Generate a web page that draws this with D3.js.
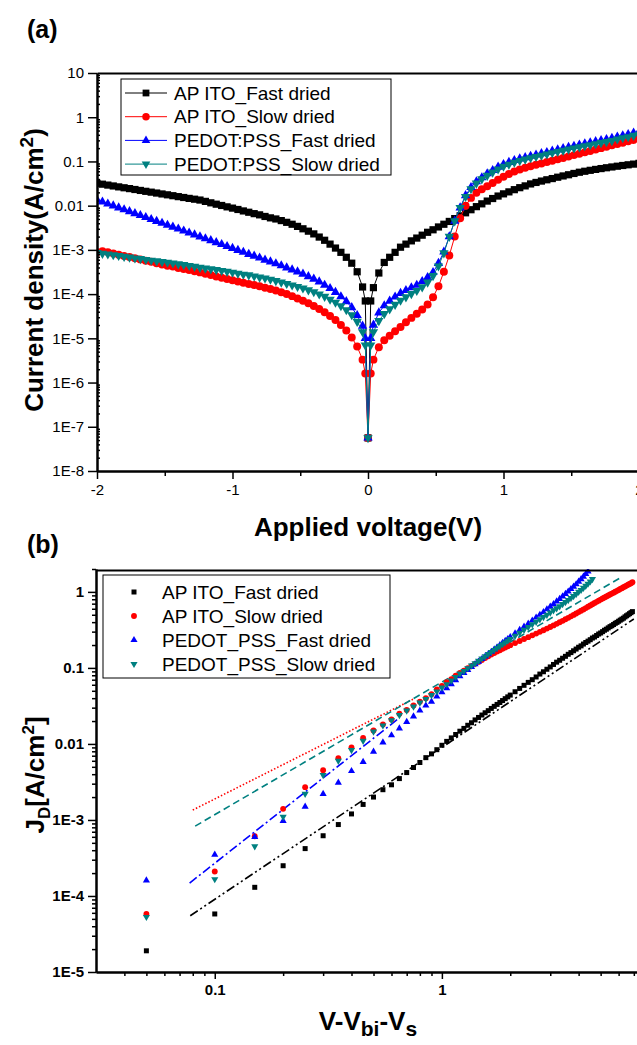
<!DOCTYPE html>
<html lang="en">
<head>
<meta charset="UTF-8">
<title>Current density vs voltage</title>
<script src="https://d3js.org/d3.v7.min.js"></script>
<style>
  body { margin: 0; background: #fff; }
  svg { display: block; }
</style>
</head>
<body>
<svg id="chart" width="637" height="1045"></svg>
<script>
// ---------- panel (a): J-V sweep from -2 V to 2 V ----------
// voltage grid of the sweep (0.04 V steps, plus the two points next to 0 V)
const voltA = [...d3.range(-50, 0).map(i => +(i * 0.04).toFixed(2)), -0.02, 0, 0.02,
               ...d3.range(1, 51).map(i => +(i * 0.04).toFixed(2))];

const apFastA = [
  3.20e-2, 3.06e-2, 2.92e-2, 2.79e-2, 2.66e-2, 2.54e-2, 2.43e-2, 2.32e-2, 2.21e-2, 2.11e-2,
  2.02e-2, 1.93e-2, 1.84e-2, 1.76e-2, 1.68e-2, 1.60e-2, 1.53e-2, 1.46e-2, 1.40e-2, 1.34e-2,
  1.25e-2, 1.16e-2, 1.08e-2, 1.01e-2, 9.4e-3, 8.8e-3, 8.2e-3, 7.6e-3, 7.1e-3, 6.6e-3,
  6.2e-3, 5.7e-3, 5.3e-3, 5.0e-3, 4.6e-3, 4.2e-3, 3.8e-3, 3.4e-3, 3.0e-3, 2.65e-3,
  2.3e-3, 1.95e-3, 1.65e-3, 1.35e-3, 1.1e-3, 8.8e-4, 6.8e-4, 5.0e-4, 3.2e-4, 1.45e-4,
  7e-5, 5.6e-8, 7e-5,
  1.4e-4, 3.0e-4, 5.2e-4, 6.8e-4, 8.8e-4, 1.15e-3, 1.35e-3, 1.6e-3, 1.85e-3, 2.15e-3,
  2.5e-3, 2.85e-3, 3.3e-3, 3.8e-3, 4.4e-3, 5.1e-3, 5.9e-3, 6.9e-3, 8.1e-3, 9.5e-3,
  1.1e-2, 1.27e-2, 1.45e-2, 1.65e-2, 1.85e-2, 2.05e-2, 2.3e-2, 2.55e-2, 2.8e-2, 3.1e-2,
  3.35e-2, 3.6e-2, 3.85e-2, 4.1e-2, 4.4e-2, 4.7e-2, 5.0e-2, 5.35e-2, 5.7e-2, 6.0e-2,
  6.3e-2, 6.6e-2, 6.9e-2, 7.2e-2, 7.5e-2, 7.8e-2, 8.1e-2, 8.4e-2, 8.7e-2, 9.0e-2
];
const apSlowA = [
  8.8e-4, 9.3e-4, 8.9e-4, 8.3e-4, 7.8e-4, 7.3e-4, 6.9e-4, 6.5e-4, 6.1e-4, 5.7e-4,
  5.4e-4, 5.0e-4, 4.7e-4, 4.4e-4, 4.2e-4, 3.9e-4, 3.7e-4, 3.5e-4, 3.3e-4, 3.1e-4,
  2.9e-4, 2.7e-4, 2.5e-4, 2.35e-4, 2.2e-4, 2.05e-4, 1.93e-4, 1.81e-4, 1.7e-4, 1.6e-4,
  1.5e-4, 1.4e-4, 1.3e-4, 1.2e-4, 1.1e-4, 1.0e-4, 9.0e-5, 8.0e-5, 7.1e-5, 6.2e-5,
  5.4e-5, 4.6e-5, 3.9e-5, 3.2e-5, 2.6e-5, 2.0e-5, 1.5e-5, 1.05e-5, 6.5e-6, 3.3e-6,
  1.6e-6, 5.6e-8, 1.6e-6,
  3.3e-6, 6.3e-6, 9.0e-6, 1.15e-5, 1.45e-5, 1.8e-5, 2.3e-5, 2.9e-5, 3.6e-5, 4.5e-5,
  5.8e-5, 8.5e-5, 1.5e-4, 3.2e-4, 7.5e-4, 2.0e-3, 5.2e-3, 1.0e-2, 1.5e-2, 1.95e-2,
  2.35e-2, 2.75e-2, 3.25e-2, 3.85e-2, 4.5e-2, 5.2e-2, 5.9e-2, 6.6e-2, 7.2e-2, 7.8e-2,
  8.4e-2, 9.0e-2, 9.7e-2, 0.104, 0.112, 0.12, 0.129, 0.139, 0.15, 0.161,
  0.173, 0.186, 0.2, 0.215, 0.231, 0.248, 0.266, 0.286, 0.307, 0.33
];
const pedotFastA = [
  1.35e-2, 1.22e-2, 1.10e-2, 9.96e-3, 9.0e-3, 8.15e-3, 7.37e-3, 6.66e-3, 6.02e-3, 5.45e-3,
  4.92e-3, 4.45e-3, 4.03e-3, 3.64e-3, 3.29e-3, 2.98e-3, 2.69e-3, 2.43e-3, 2.2e-3, 1.99e-3,
  1.8e-3, 1.63e-3, 1.47e-3, 1.33e-3, 1.2e-3, 1.09e-3, 9.8e-4, 8.9e-4, 8.0e-4, 7.3e-4,
  6.6e-4, 5.9e-4, 5.4e-4, 4.9e-4, 4.4e-4, 3.95e-4, 3.55e-4, 3.2e-4, 2.85e-4, 2.5e-4,
  2.2e-4, 1.9e-4, 1.6e-4, 1.35e-4, 1.1e-4, 8.8e-5, 6.8e-5, 5.0e-5, 3.3e-5, 1.9e-5,
  1.0e-5, 5.6e-8, 1.0e-5,
  2.0e-5, 3.8e-5, 5.5e-5, 7.0e-5, 8.7e-5, 1.05e-4, 1.22e-4, 1.4e-4, 1.6e-4, 1.95e-4,
  2.4e-4, 3.1e-4, 5.0e-4, 9.0e-4, 2.0e-3, 4.5e-3, 9.0e-3, 1.7e-2, 2.6e-2, 3.5e-2,
  4.3e-2, 5.3e-2, 6.3e-2, 7.5e-2, 8.6e-2, 9.6e-2, 0.106, 0.115, 0.123, 0.132,
  0.141, 0.151, 0.161, 0.172, 0.184, 0.197, 0.21, 0.223, 0.237, 0.251,
  0.266, 0.282, 0.298, 0.316, 0.334, 0.36, 0.385, 0.41, 0.44, 0.47
];
const pedotSlowA = [
  8.6e-4, 8.3e-4, 8.0e-4, 7.7e-4, 7.4e-4, 7.1e-4, 6.8e-4, 6.5e-4, 6.3e-4, 6.0e-4,
  5.8e-4, 5.6e-4, 5.4e-4, 5.2e-4, 5.0e-4, 4.8e-4, 4.6e-4, 4.4e-4, 4.2e-4, 4.0e-4,
  3.85e-4, 3.7e-4, 3.55e-4, 3.4e-4, 3.25e-4, 3.1e-4, 2.95e-4, 2.8e-4, 2.7e-4, 2.55e-4,
  2.4e-4, 2.3e-4, 2.15e-4, 2.0e-4, 1.85e-4, 1.72e-4, 1.6e-4, 1.48e-4, 1.36e-4, 1.24e-4,
  1.12e-4, 1.0e-4, 8.8e-5, 7.6e-5, 6.5e-5, 5.4e-5, 4.4e-5, 3.4e-5, 2.4e-5, 1.4e-5,
  7e-6, 5.6e-8, 7e-6,
  1.4e-5, 2.5e-5, 3.6e-5, 4.6e-5, 5.8e-5, 7.2e-5, 8.6e-5, 1.02e-4, 1.2e-4, 1.45e-4,
  1.85e-4, 2.6e-4, 4.3e-4, 8.5e-4, 2.0e-3, 4.5e-3, 9.0e-3, 1.6e-2, 2.4e-2, 3.2e-2,
  4.0e-2, 4.8e-2, 5.7e-2, 6.7e-2, 7.7e-2, 8.6e-2, 9.5e-2, 0.104, 0.112, 0.12,
  0.128, 0.137, 0.146, 0.156, 0.166, 0.177, 0.188, 0.2, 0.212, 0.224,
  0.237, 0.25, 0.264, 0.278, 0.293, 0.32, 0.34, 0.36, 0.385, 0.41
];

const xTicksA = [-2, -1, 0, 1, 2];
const yTicksA = [1e-8, 1e-7, 1e-6, 1e-5, 1e-4, 1e-3, 1e-2, 1e-1, 1, 10];
const yTickLabelsA = ["1E-8", "1E-7", "1E-6", "1E-5", "1E-4", "1E-3", "0.01", "0.1", "1", "10"];
const namesA = ["AP ITO_Fast dried", "AP ITO_Slow dried", "PEDOT:PSS_Fast dried", "PEDOT:PSS_Slow dried"];

// ---------- panel (b): J_D vs V - Vbi - Vs (log-log) ----------
const biasB = [...d3.range(1, 41).map(i => +(i * 0.05).toFixed(2)),
               ...d3.range(21, 71).map(i => +(i * 0.1).toFixed(1))];

const apFastB = [
  1.9e-5, 5.8e-5, 1.3e-4, 2.5e-4, 4.2e-4, 6.2e-4, 8.7e-4, 1.2e-3, 1.6e-3, 2.0e-3,
  2.5e-3, 2.9e-3, 3.5e-3, 4.2e-3, 4.9e-3, 5.7e-3, 6.6e-3, 7.4e-3, 8.4e-3, 9.6e-3,
  1.08e-2, 1.2e-2, 1.33e-2, 1.47e-2, 1.6e-2, 1.76e-2, 1.9e-2, 2.07e-2, 2.23e-2, 2.4e-2,
  2.57e-2, 2.74e-2, 2.93e-2, 3.12e-2, 3.31e-2, 3.51e-2, 3.72e-2, 3.94e-2, 4.16e-2, 4.39e-2,
  4.86e-2, 5.37e-2, 5.9e-2, 6.45e-2, 7.0e-2, 7.6e-2, 8.3e-2, 8.9e-2, 9.6e-2, 0.103,
  0.111, 0.119, 0.126, 0.134, 0.142, 0.151, 0.159, 0.168, 0.177, 0.187,
  0.195, 0.206, 0.216, 0.225, 0.235, 0.247, 0.255, 0.267, 0.279, 0.288,
  0.3, 0.313, 0.323, 0.336, 0.349, 0.359, 0.372, 0.386, 0.397, 0.411,
  0.425, 0.438, 0.451, 0.469, 0.485, 0.5, 0.517, 0.533, 0.55
];
const apSlowB = [
  5.8e-5, 2.1e-4, 6.1e-4, 1.4e-3, 2.7e-3, 4.5e-3, 6.5e-3, 9.0e-3, 1.2e-2, 1.5e-2,
  1.8e-2, 2.1e-2, 2.5e-2, 2.8e-2, 3.2e-2, 3.6e-2, 4.0e-2, 4.5e-2, 5.2e-2, 5.8e-2,
  6.5e-2, 7.1e-2, 7.9e-2, 8.6e-2, 9.2e-2, 9.9e-2, 0.106, 0.113, 0.12, 0.127,
  0.135, 0.142, 0.15, 0.157, 0.164, 0.171, 0.178, 0.185, 0.192, 0.199,
  0.212, 0.226, 0.24, 0.254, 0.268, 0.283, 0.298, 0.313, 0.329, 0.345,
  0.362, 0.38, 0.398, 0.416, 0.436, 0.456, 0.477, 0.498, 0.52, 0.542,
  0.565, 0.588, 0.612, 0.637, 0.662, 0.688, 0.714, 0.74, 0.766, 0.792,
  0.818, 0.844, 0.87, 0.896, 0.923, 0.95, 0.977, 1.005, 1.033, 1.06,
  1.09, 1.12, 1.15, 1.18, 1.21, 1.24, 1.27, 1.3, 1.34
];
const pedotFastB = [
  1.6e-4, 3.5e-4, 6.0e-4, 9.7e-4, 1.5e-3, 2.2e-3, 3.1e-3, 4.4e-3, 5.8e-3, 7.9e-3,
  1.05e-2, 1.3e-2, 1.6e-2, 1.95e-2, 2.3e-2, 2.75e-2, 3.2e-2, 3.6e-2, 4.2e-2, 4.8e-2,
  5.4e-2, 6.1e-2, 6.9e-2, 7.8e-2, 8.6e-2, 9.4e-2, 0.103, 0.112, 0.121, 0.131,
  0.141, 0.152, 0.163, 0.175, 0.187, 0.2, 0.213, 0.226, 0.24, 0.255,
  0.285, 0.316, 0.349, 0.383, 0.42, 0.46, 0.5, 0.54, 0.59, 0.64,
  0.69, 0.75, 0.81, 0.87, 0.94, 1.01, 1.09, 1.17, 1.26, 1.36,
  1.47, 1.59, 1.72, 1.86
];
const pedotSlowB = [
  5.3e-5, 1.66e-4, 4.5e-4, 1.1e-3, 2.2e-3, 3.9e-3, 6.0e-3, 8.3e-3, 1.1e-2, 1.45e-2,
  1.75e-2, 2.05e-2, 2.4e-2, 2.75e-2, 3.1e-2, 3.5e-2, 3.9e-2, 4.4e-2, 4.9e-2, 5.5e-2,
  6.1e-2, 6.8e-2, 7.6e-2, 8.4e-2, 9.1e-2, 9.9e-2, 0.107, 0.115, 0.124, 0.133,
  0.142, 0.152, 0.162, 0.172, 0.183, 0.194, 0.205, 0.216, 0.228, 0.24,
  0.264, 0.29, 0.317, 0.345, 0.374, 0.404, 0.435, 0.467, 0.5, 0.535,
  0.571, 0.608, 0.647, 0.69, 0.735, 0.78, 0.83, 0.88, 0.935, 1.0,
  1.06, 1.13, 1.2, 1.28, 1.37, 1.47
];

// fitted lines, two end points each: [x0, x1], [J0, J1]
const fitApFastX = [0.078, 7.0],   fitApFastJ = [5.5e-5, 0.44];
const fitApSlowX = [0.08, 0.75],   fitApSlowJ = [1.35e-3, 3.9e-2];
const fitPedotFastX = [0.0775, 0.65], fitPedotFastJ = [1.48e-4, 2.2e-2];
const fitPedotSlowX = [0.082, 6.1],  fitPedotSlowJ = [8.3e-4, 1.53];

const xTicksB = [0.1, 1];
const xTickLabelsB = ["0.1", "1"];
const yTicksB = [1e-5, 1e-4, 1e-3, 1e-2, 1e-1, 1];
const yTickLabelsB = ["1E-5", "1E-4", "1E-3", "0.01", "0.1", "1"];
const namesB = ["AP ITO_Fast dried", "AP ITO_Slow dried", "PEDOT_PSS_Fast dried", "PEDOT_PSS_Slow dried"];

// ---------- drawing ----------
const font = '"Liberation Sans", Arial, Helvetica, sans-serif';
const colors = ["#000000", "#ff0000", "#0000ff", "#008080"];
const shapes = ["square", "circle", "up", "down"];
const sizesA = [52, 50, 38, 38];
const sizesB = [25, 27, 22, 22];

const svg = d3.select("#chart").attr("font-family", font);

function marker(sel, shape, size) {
  const type = shape === "square" ? d3.symbolSquare : shape === "circle" ? d3.symbolCircle : d3.symbolTriangle;
  sel.attr("d", d3.symbol(type, size)());
}

function styleAxis(g, size, weight) {
  g.attr("font-family", font).attr("font-size", size).attr("font-weight", weight);
  g.select(".domain").attr("stroke-width", 2);
  g.selectAll(".tick line").attr("stroke-width", 1.5);
  g.selectAll(".tick text").attr("fill", "#000");
}

function minorLog(lo, hi, maxVal) {
  const out = [];
  for (let e = lo; e <= hi; e++) for (let k = 2; k <= 9; k++) {
    const v = k * Math.pow(10, e);
    if (v <= maxVal) out.push(v);
  }
  return out;
}

// ===== panel (a) =====
const xA = d3.scaleLinear().domain([-2, 2]).range([97, 639]);
const yA = d3.scaleLog().domain([1e-8, 10]).range([471, 73]);

svg.append("clipPath").attr("id", "clipA")
  .append("rect").attr("x", 97).attr("y", 73).attr("width", 542).attr("height", 398);

const plotA = svg.append("g").attr("clip-path", "url(#clipA)");
[apFastA, apSlowA, pedotFastA, pedotSlowA].forEach((vals, s) => {
  const pts = voltA.map((v, i) => [v, vals[i]]);
  plotA.append("path")
    .attr("d", d3.line().x(d => xA(d[0])).y(d => yA(d[1]))(pts))
    .attr("fill", "none").attr("stroke", colors[s]).attr("stroke-width", 1);
  plotA.append("g").selectAll("path").data(pts).join("path")
    .call(marker, shapes[s], sizesA[s])
    .attr("fill", colors[s])
    .attr("transform", d => `translate(${xA(d[0])},${yA(d[1])})${shapes[s] === "down" ? " rotate(180)" : ""}`);
});

svg.append("g").attr("transform", "translate(97,0)")
  .call(d3.axisLeft(yA).tickValues(minorLog(-8, 0, 10)).tickFormat("").tickSize(-3).tickSizeOuter(0))
  .call(styleAxis, 15, "normal");
svg.append("g").attr("transform", "translate(97,0)")
  .call(d3.axisLeft(yA).tickValues(yTicksA).tickFormat((d, i) => yTickLabelsA[i])
    .tickSize(9).tickPadding(4).tickSizeOuter(0))
  .call(styleAxis, 15, "normal");
svg.append("g").attr("transform", "translate(0,471)")
  .call(d3.axisBottom(xA).tickValues([-1.5, -0.5, 0.5, 1.5]).tickFormat("").tickSize(5).tickSizeOuter(0))
  .call(styleAxis, 15, "normal");
svg.append("g").attr("transform", "translate(0,471)")
  .call(d3.axisBottom(xA).tickValues(xTicksA).tickFormat(d => String(d)).tickSize(8).tickPadding(5).tickSizeOuter(0))
  .call(styleAxis, 15, "normal");
svg.append("g").attr("transform", "translate(0,73)")
  .call(d3.axisTop(xA).tickValues([]).tickSizeOuter(0))
  .call(styleAxis, 15, "normal");

// legend (a)
const legA = svg.append("g");
legA.append("rect").attr("x", 121).attr("y", 79).attr("width", 270).attr("height", 96)
  .attr("fill", "#fff").attr("stroke", "#000").attr("stroke-width", 1);
namesA.forEach((name, s) => {
  const y = 93 + s * 23.7;
  legA.append("line").attr("x1", 125).attr("x2", 167).attr("y1", y).attr("y2", y)
    .attr("stroke", colors[s]).attr("stroke-width", 1);
  legA.append("path").call(marker, shapes[s], sizesA[s] - 6)
    .attr("fill", colors[s])
    .attr("transform", `translate(146,${y})${shapes[s] === "down" ? " rotate(180)" : ""}`);
  legA.append("text").attr("x", 174).attr("y", y + 6.5).attr("font-size", 19).text(name);
});

svg.append("text").attr("x", 27).attr("y", 38).attr("font-size", 25).attr("font-weight", "bold").text("(a)");
svg.append("text").attr("x", 368).attr("y", 536).attr("text-anchor", "middle")
  .attr("font-size", 26).attr("font-weight", "bold").text("Applied voltage(V)");
const titleA = svg.append("text").attr("transform", "translate(43,270) rotate(-90)")
  .attr("text-anchor", "middle").attr("font-size", 26).attr("font-weight", "bold");
titleA.append("tspan").text("Current density(A/cm");
titleA.append("tspan").attr("dy", -10).attr("font-size", 19).text("2");
titleA.append("tspan").attr("dy", 10).text(")");

// ===== panel (b) =====
const xB = d3.scaleLog().domain([0.03, 8]).range([96, 647]);
const yB = d3.scaleLog().domain([1e-5, 2]).range([972, 569]);

svg.append("clipPath").attr("id", "clipB")
  .append("rect").attr("x", 96).attr("y", 569).attr("width", 551).attr("height", 403);
const plotB = svg.append("g").attr("clip-path", "url(#clipB)");

const fits = [
  [fitApFastX, fitApFastJ, "9,3,2,3,2,3"],
  [fitApSlowX, fitApSlowJ, "1.5,2"],
  [fitPedotFastX, fitPedotFastJ, "9,3,2,3"],
  [fitPedotSlowX, fitPedotSlowJ, "7,4"]
];
fits.forEach(([fx, fj, dash], s) => {
  plotB.append("path")
    .attr("d", d3.line().x(d => xB(d[0])).y(d => yB(d[1]))(fx.map((x, i) => [x, fj[i]])))
    .attr("fill", "none").attr("stroke", colors[s]).attr("stroke-width", 1.6)
    .attr("stroke-dasharray", dash);
});

[apFastB, apSlowB, pedotFastB, pedotSlowB].forEach((vals, s) => {
  const pts = vals.map((j, i) => [biasB[i], j]);
  plotB.append("g").selectAll("path").data(pts).join("path")
    .call(marker, shapes[s], sizesB[s])
    .attr("fill", colors[s])
    .attr("transform", d => `translate(${xB(d[0])},${yB(d[1])})${shapes[s] === "down" ? " rotate(180)" : ""}`);
});

svg.append("g").attr("transform", "translate(96,0)")
  .call(d3.axisLeft(yB).tickValues(minorLog(-5, 0, 2)).tickFormat("").tickSize(4).tickSizeOuter(0))
  .call(styleAxis, 15, "bold");
svg.append("g").attr("transform", "translate(96,0)")
  .call(d3.axisLeft(yB).tickValues(yTicksB).tickFormat((d, i) => yTickLabelsB[i])
    .tickSize(8).tickPadding(4).tickSizeOuter(0))
  .call(styleAxis, 15, "bold");
svg.append("g").attr("transform", "translate(0,972)")
  .call(d3.axisBottom(xB).tickValues(minorLog(-2, 0, 8).filter(v => v > 0.03)).tickFormat("").tickSize(4).tickSizeOuter(0))
  .call(styleAxis, 15, "bold");
svg.append("g").attr("transform", "translate(0,972)")
  .call(d3.axisBottom(xB).tickValues(xTicksB).tickFormat((d, i) => xTickLabelsB[i])
    .tickSize(7).tickPadding(5).tickSizeOuter(0))
  .call(styleAxis, 15, "bold");
svg.append("g").attr("transform", "translate(0,570)")
  .call(d3.axisTop(xB).tickValues([]).tickSizeOuter(0))
  .call(styleAxis, 15, "bold");

// legend (b)
const legB = svg.append("g");
legB.append("rect").attr("x", 103).attr("y", 575).attr("width", 287).attr("height", 103)
  .attr("fill", "#fff").attr("stroke", "#000").attr("stroke-width", 1);
namesB.forEach((name, s) => {
  const y = 592 + s * 24;
  legB.append("path").call(marker, shapes[s], sizesB[s])
    .attr("fill", colors[s])
    .attr("transform", `translate(134,${y})${shapes[s] === "down" ? " rotate(180)" : ""}`);
  legB.append("text").attr("x", 162).attr("y", y + 6.5).attr("font-size", 19).text(name);
});

svg.append("text").attr("x", 27).attr("y", 553).attr("font-size", 25).attr("font-weight", "bold").text("(b)");
const xTitleB = svg.append("text").attr("x", 368).attr("y", 1030).attr("text-anchor", "middle")
  .attr("font-size", 26).attr("font-weight", "bold");
xTitleB.append("tspan").text("V-V");
xTitleB.append("tspan").attr("dy", 6).attr("font-size", 21).text("bi");
xTitleB.append("tspan").attr("dy", -6).text("-V");
xTitleB.append("tspan").attr("dy", 6).attr("font-size", 21).text("s");

const yTitleB = svg.append("text").attr("transform", "translate(44,775) rotate(-90)")
  .attr("text-anchor", "middle").attr("font-size", 26).attr("font-weight", "bold");
yTitleB.append("tspan").text("J");
yTitleB.append("tspan").attr("dy", 6).attr("font-size", 17).text("D");
yTitleB.append("tspan").attr("dy", -6).text("[A/cm");
yTitleB.append("tspan").attr("dy", -10).attr("font-size", 17).text("2");
yTitleB.append("tspan").attr("dy", 10).text("]");
</script>
</body>
</html>
